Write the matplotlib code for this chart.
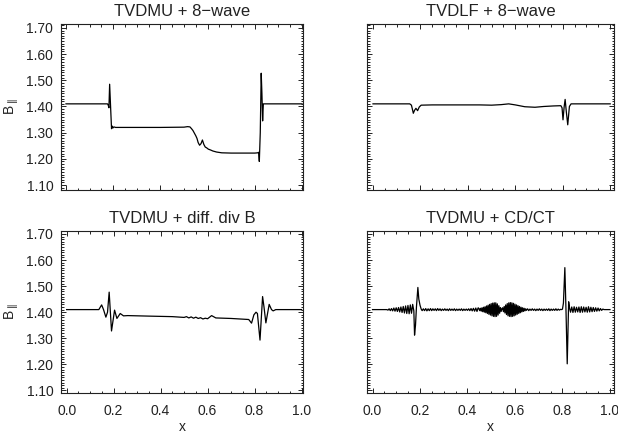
import numpy as np
import matplotlib
matplotlib.use("Agg")
import matplotlib.pyplot as plt
from matplotlib.ticker import MultipleLocator, FormatStrFormatter

plt.rcParams['font.family'] = ['Liberation Sans', 'DejaVu Sans']

titles = ["TVDMU + 8\u2212wave", "TVDLF + 8\u2212wave", "TVDMU + diff. div B", "TVDMU + CD/CT"]

#TVDMU + 8-wave
x1 = [0.0, 0.176, 0.179, 0.182, 0.185, 0.189, 0.193, 0.196, 0.199, 0.203, 0.21, 0.30, 0.40, 0.50, 0.515, 0.525,
      0.532, 0.538, 0.544, 0.55, 0.555, 0.56, 0.566, 0.572, 0.578, 0.584, 0.59, 0.596, 0.603, 0.612, 0.622, 0.638,
      0.66, 0.70, 0.75, 0.80, 0.812, 0.816, 0.819, 0.823, 0.827, 0.830, 0.833, 0.836, 0.840, 0.85, 1.0]
y1 = [1.41, 1.41, 1.405, 1.395, 1.485, 1.40, 1.315, 1.325, 1.318, 1.322, 1.32, 1.32, 1.32, 1.321, 1.323, 1.322,
      1.315, 1.308, 1.298, 1.288, 1.278, 1.262, 1.252, 1.258, 1.272, 1.255, 1.245, 1.242, 1.237, 1.234, 1.230, 1.226,
      1.223, 1.222, 1.222, 1.222, 1.223, 1.225, 1.19, 1.30, 1.527, 1.45, 1.345, 1.41, 1.41, 1.41, 1.41]

#TVDLF + 8-wave
x2 = [0.0, 0.155, 0.162, 0.166, 0.170, 0.175, 0.181, 0.188, 0.195, 0.203, 0.25, 0.35, 0.45, 0.50, 0.54, 0.572,
      0.60, 0.64, 0.683, 0.72, 0.76, 0.792, 0.797, 0.801, 0.806, 0.810, 0.815, 0.821, 0.828, 0.835, 0.85, 1.0]
y2 = [1.41, 1.41, 1.405, 1.39, 1.374, 1.385, 1.393, 1.384, 1.398, 1.405, 1.406, 1.406, 1.406, 1.405, 1.407, 1.41,
      1.406, 1.399, 1.397, 1.400, 1.402, 1.403, 1.395, 1.349, 1.40, 1.427, 1.38, 1.33, 1.40, 1.41, 1.41, 1.41]

#TVDMU + diff. div B
x3 = [0.0, 0.137, 0.149, 0.157, 0.167, 0.174, 0.181, 0.191, 0.204, 0.214, 0.228, 0.242, 0.26, 0.35, 0.45, 0.50,
      0.51, 0.52, 0.53, 0.54, 0.55, 0.56, 0.57, 0.58, 0.59, 0.60, 0.617, 0.635, 0.70, 0.775, 0.787, 0.797, 0.806,
      0.812, 0.823, 0.834, 0.840, 0.848, 0.862, 0.872, 0.879, 0.89, 1.0]
y3 = [1.41, 1.41, 1.428, 1.41, 1.381, 1.40, 1.477, 1.328, 1.408, 1.376, 1.395, 1.386, 1.387, 1.385, 1.383, 1.38,
      1.383, 1.378, 1.382, 1.377, 1.381, 1.376, 1.379, 1.374, 1.377, 1.375, 1.387, 1.378, 1.376, 1.372, 1.358, 1.39,
      1.40, 1.395, 1.293, 1.46, 1.42, 1.359, 1.43, 1.41, 1.405, 1.41, 1.41]

#TVDMU + CD/CT, read piece by piece (ripples, spikes, wave packets)
cd_start = ([0.0, 0.06], [1.41, 1.41])
cd_ripple1 = (0.065, 0.174, [1.408, 1.413, 1.406, 1.414, 1.405, 1.416, 1.404, 1.417, 1.403, 1.418, 1.401, 1.420,
                             1.399, 1.422, 1.397, 1.424, 1.395, 1.426, 1.394, 1.428, 1.396, 1.430, 1.405])
cd_spike1 = ([0.177, 0.181, 0.185, 0.191, 0.195, 0.200, 0.205], [1.312, 1.35, 1.42, 1.495, 1.45, 1.427, 1.412])
cd_ripple2 = (0.209, 0.445, [1.406, 1.413, 1.406, 1.414, 1.405, 1.413, 1.406, 1.414, 1.406, 1.413, 1.407, 1.413,
                             1.406, 1.414, 1.407, 1.413, 1.406, 1.412, 1.407, 1.413, 1.407, 1.412, 1.406, 1.413,
                             1.407, 1.412, 1.407, 1.413, 1.406, 1.412, 1.407, 1.412, 1.407, 1.413, 1.406, 1.412,
                             1.407, 1.412, 1.407, 1.413, 1.406, 1.414, 1.405, 1.415, 1.404, 1.416, 1.403, 1.417])
cd_packet1 = (0.448, 0.545, [1.414, 1.406, 1.415, 1.404, 1.417, 1.402, 1.419, 1.400, 1.421, 1.398, 1.424, 1.395,
                             1.427, 1.392, 1.430, 1.389, 1.433, 1.386, 1.435, 1.384, 1.436, 1.383, 1.436, 1.384,
                             1.432, 1.389, 1.425, 1.396, 1.418, 1.403, 1.414])
cd_packet2 = (0.548, 0.645, [1.417, 1.402, 1.422, 1.397, 1.428, 1.391, 1.433, 1.386, 1.436, 1.384, 1.437, 1.383,
                             1.436, 1.384, 1.434, 1.386, 1.431, 1.389, 1.428, 1.392, 1.425, 1.395, 1.422, 1.398,
                             1.419, 1.401, 1.417, 1.403, 1.415, 1.405, 1.413])
cd_ripple3 = (0.648, 0.797, [1.407, 1.413, 1.406, 1.412, 1.407, 1.413, 1.407, 1.412, 1.406, 1.412, 1.407, 1.413,
                             1.407, 1.412, 1.406, 1.412, 1.407, 1.412, 1.407, 1.413, 1.406, 1.412, 1.407, 1.412,
                             1.407, 1.413, 1.407, 1.412, 1.408, 1.411, 1.41])
cd_spike2 = ([0.800, 0.804, 0.810, 0.815, 0.820, 0.826, 0.830], [1.412, 1.435, 1.571, 1.40, 1.202, 1.44, 1.415])
cd_ripple4 = (0.834, 0.975, [1.400, 1.420, 1.399, 1.421, 1.400, 1.419, 1.401, 1.420, 1.399, 1.421, 1.400, 1.420,
                             1.401, 1.419, 1.400, 1.421, 1.401, 1.419, 1.402, 1.418, 1.403, 1.417, 1.404, 1.416,
                             1.405, 1.414, 1.407, 1.412, 1.41])
cd_end = ([0.98, 1.0], [1.41, 1.41])

x4 = []
y4 = []
for part in [cd_start, cd_ripple1, cd_spike1, cd_ripple2, cd_packet1, cd_packet2, cd_ripple3, cd_spike2,
             cd_ripple4, cd_end]:
    if len(part) == 2:
        x4 += list(part[0])
        y4 += list(part[1])
    else:  #evenly spaced samples between two x values
        x4 += list(np.linspace(part[0], part[1], len(part[2])))
        y4 += list(part[2])

xs = [x1, x2, x3, x4]
ys = [y1, y2, y3, y4]

#panel boxes in pixels (left, top, right, bottom)
W, H = 618.0, 436.0
boxes = [(61, 24, 303, 190), (367.3, 24, 614, 190), (61, 231, 303, 392.5), (367.3, 231, 614, 392.5)]
xlims = [(-0.021, 1.004), (-0.024, 1.016), (-0.024, 1.006), (-0.022, 1.017)]
ylims = [(1.081, 1.715), (1.081, 1.715), (1.092, 1.7115), (1.092, 1.7115)]

fig = plt.figure(figsize=(6.18, 4.36), dpi=100)
for i in range(4):
    l, t, r, b = boxes[i]
    ax = fig.add_axes([l / W, 1 - b / H, (r - l) / W, (b - t) / H])
    ax.plot(xs[i], ys[i], color='black', lw=0.9)
    ax.set_xlim(xlims[i])
    ax.set_ylim(ylims[i])
    ax.set_title(titles[i], fontsize=12, pad=5.5, color='#222222')
    ax.xaxis.set_major_locator(MultipleLocator(0.2))
    ax.xaxis.set_minor_locator(MultipleLocator(0.05))
    ax.yaxis.set_major_locator(MultipleLocator(0.1))
    ax.yaxis.set_minor_locator(MultipleLocator(0.01))
    ax.xaxis.set_major_formatter(FormatStrFormatter('%.1f'))
    ax.yaxis.set_major_formatter(FormatStrFormatter('%.2f'))
    ax.tick_params(which='both', direction='in', top=True, right=True, width=0.7, colors='#222222')
    ax.tick_params(which='major', length=3.6)
    ax.tick_params(which='minor', length=1.8)
    ax.tick_params(axis='x', pad=8.5, labelsize=10)
    ax.tick_params(axis='y', pad=5.5, labelsize=10)
    for s in ax.spines.values():
        s.set_linewidth(0.8)
        s.set_color('#222222')
    if i < 2:
        ax.set_xticklabels([])
    else:
        ax.set_xlabel('x', fontsize=10, labelpad=1.5, color='#222222')
    if i % 2 == 1:
        ax.set_yticklabels([])
    else:
        ax.set_ylabel(r'B$_{\parallel}$', fontsize=10, color='#222222')
        ax.yaxis.set_label_coords(-0.165, 0.5)

plt.savefig('out.png', dpi=100)
